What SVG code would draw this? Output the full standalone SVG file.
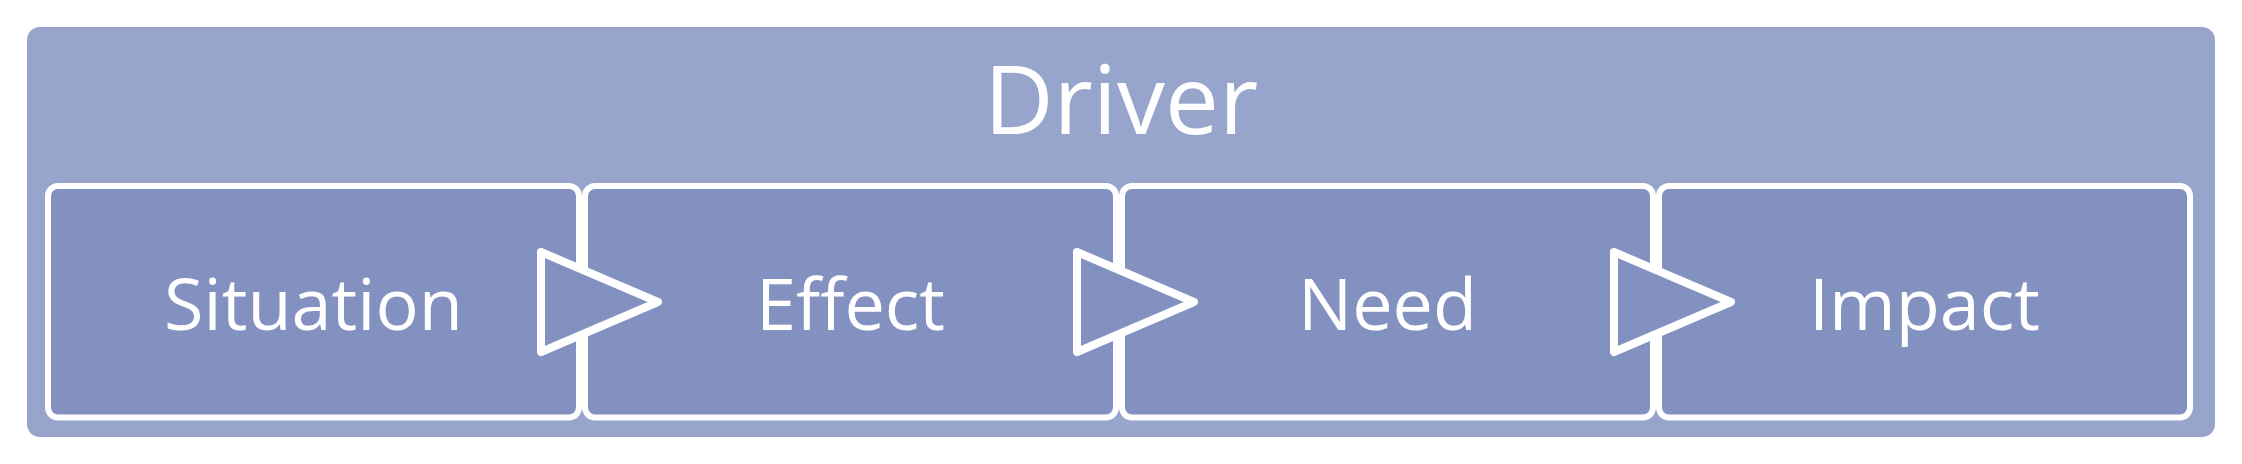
<svg xmlns="http://www.w3.org/2000/svg" width="2242" height="464" viewBox="0 0 2242 464">
  <style>
    .box { fill: #8391c0; stroke: #ffffff; stroke-width: 6; }
    .lbl { font-family: "Open Sans", "Noto Sans", "DejaVu Sans", sans-serif; font-size: 72px; fill: #ffffff; text-anchor: middle; }
    .title { font-family: "Open Sans", "Noto Sans", "DejaVu Sans", sans-serif; font-size: 96px; fill: #ffffff; text-anchor: middle; }
    .arrow { fill: #8391c0; stroke: #ffffff; stroke-width: 8; stroke-linejoin: round; }
  </style>
  <rect width="2242" height="464" fill="#ffffff"/>
  <g id="driver">
    <rect x="27" y="27" width="2188" height="410" rx="13" ry="13" fill="#97a4cc"/>
    <text class="title" x="1121" y="134">Driver</text>
  </g>
  <g id="situation">
    <rect class="box" x="48" y="186" width="531" height="231.5" rx="10" ry="10"/>
    <text class="lbl" x="313.5" y="330">Situation</text>
  </g>
  <g id="effect">
    <rect class="box" x="585" y="186" width="531" height="231.5" rx="10" ry="10"/>
    <text class="lbl" x="850.5" y="330">Effect</text>
  </g>
  <g id="need">
    <rect class="box" x="1122" y="186" width="531" height="231.5" rx="10" ry="10"/>
    <text class="lbl" x="1387.5" y="330">Need</text>
  </g>
  <g id="impact">
    <rect class="box" x="1659" y="186" width="531" height="231.5" rx="10" ry="10"/>
    <text class="lbl" x="1924.5" y="330">Impact</text>
  </g>
  <g id="connectors">
    <polygon class="arrow" points="541,252 658,302 541,352"/>
    <polygon class="arrow" points="1077,252 1194,302 1077,352"/>
    <polygon class="arrow" points="1614,252 1731,302 1614,352"/>
  </g>
</svg>
